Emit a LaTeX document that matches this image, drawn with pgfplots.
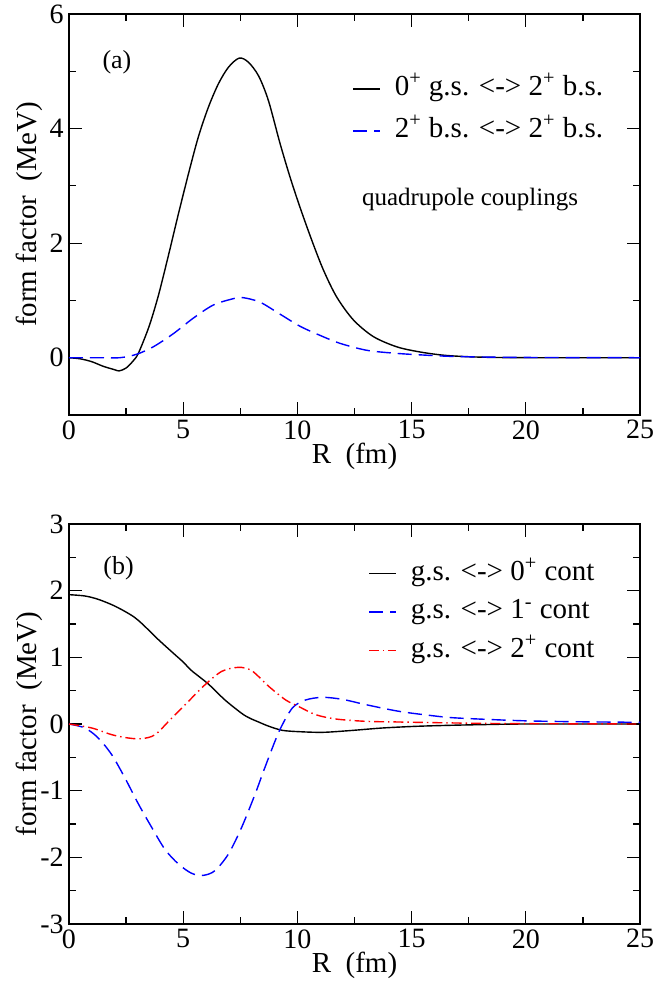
\documentclass[border=0pt]{standalone}
\usepackage{fontspec}
\setmainfont{Liberation Serif}
\usepackage{pgfplots}
\pgfplotsset{compat=1.18}

\pgfplotsset{
  panel/.style={
    scale only axis, width=285.5pt,
    xmin=0, xmax=25,
    xtick={0,5,...,25}, minor xtick={2.5,7.5,...,22.5},
    axis line style={line width=0.8pt},
    every tick/.style={black, line width=0.6pt},
    major tick length=6.5pt, minor tick length=3.5pt,
    tick label style={font=\fontsize{14}{16}\selectfont},
    xticklabel style={inner sep=2.5pt},
    yticklabel style={inner sep=2.5pt},
    /pgf/number format/assume math mode=true,
    label style={font=\fontsize{14.5}{17}\selectfont},
    xlabel={R\ \ (fm)}, ylabel={form factor\ \ (MeV)},
    x label style={at={(axis description cs:0.5,-0.102)}, anchor=center},
    y label style={at={(axis description cs:-0.07,0.5)}, anchor=center},
    legend cell align=left,
    legend image code/.code={\draw[##1] (0pt,0pt) -- (13.5pt,0pt);},
    legend style={draw=none, fill=none, inner sep=0pt,
      font=\fontsize{14.5}{17}\selectfont,
      nodes={inner sep=0pt, text height=10pt, text depth=3.5pt},
      /tikz/every odd column/.append style={column sep=7pt}},
  },
  crv/.style={line width=0.7pt, smooth},
}

\begin{document}
\begin{tikzpicture}
\path[use as bounding box] (-34.5pt,7pt) rectangle (292pt,-487.5pt);

% (a) quadrupole couplings
\begin{axis}[panel, at={(0pt,0pt)}, anchor=north west, height=200.5pt,
  ymin=-1, ymax=6,
  ytick={0,2,4,6}, yticklabels={0,2,4,6}, minor ytick={1,3,5},
  legend style={at={(axis description cs:0.4956,0.761)}, anchor=west, row sep=7.5pt},
]
\addplot[crv, black] table {
0     0
0.5  -0.02
1.0  -0.07
1.5  -0.15
2.0  -0.21
2.2  -0.23
2.5  -0.18
2.8  -0.06
3.04  0.08
3.5   0.54
3.91  1.08
4.35  1.78
4.79  2.51
5.23  3.21
5.66  3.85
6.1   4.37
6.54  4.78
6.98  5.07
7.45  5.23
7.85  5.16
8.3   4.92
8.73  4.49
9.24  3.74
9.68  3.15
10.11 2.63
10.63 2.05
11.14 1.53
11.72 1.06
12.45 0.66
13.32 0.37
14.35 0.19
15.37 0.10
16.5  0.04
18    0.01
20    0
25    0
};
\addlegendentry{0\textsuperscript{+} g.s. <-> 2\textsuperscript{+} b.s.}
\addplot[crv, blue, dash pattern=on 7pt off 3.5pt] table {
0     0
1.36  0
2.23  0
2.96  0.06
3.69  0.19
4.57  0.42
5.44  0.69
6.32  0.92
7.19  1.03
7.6   1.05
8.36  0.97
9.24  0.76
10.11 0.55
10.99 0.39
11.87 0.25
13.03 0.13
14.2  0.08
15.37 0.05
17    0.02
20    0.005
25    0
};
\addlegendentry{2\textsuperscript{+} b.s. <-> 2\textsuperscript{+} b.s.}
\node[font=\fontsize{13}{15}\selectfont] at (axis cs:2.1,5.15) {(a)};
\node[font=\fontsize{12.5}{15}\selectfont, anchor=base west] at (axis cs:12.52,2.66) {quadrupole couplings};
\end{axis}

% (b) couplings to the continuum
\begin{axis}[panel, at={(0pt,-255pt)}, anchor=north west, height=200pt,
  ymin=-3, ymax=3,
  ytick={-3,-2,...,3}, yticklabels={-3,-2,-1,0,1,2,3},
  minor ytick={-2.5,-1.5,...,2.5},
  x label style={at={(axis description cs:0.5,-0.103)}},
  legend style={at={(axis description cs:0.5236,0.78)}, anchor=west, row sep=5.75pt},
]
\addplot[crv, black] table {
0     1.94
0.7   1.92
1.28  1.87
2.0   1.77
2.74  1.63
3.18  1.51
3.9   1.27
4.64  1.04
5.0   0.93
5.37  0.80
6.1   0.60
6.83  0.36
7.56  0.16
7.9   0.09
8.3   0.03
8.76 -0.035
9.34 -0.095
10.07 -0.115
11.1 -0.125
12.26 -0.10
13.72 -0.06
15.18 -0.035
16.64 -0.02
18   -0.01
20    0
25    0
};
\addlegendentry{g.s. <-> 0\textsuperscript{+} cont}
\addplot[crv, blue, dash pattern=on 7pt off 3.5pt] table {
0     0
0.7  -0.06
1.28 -0.21
1.87 -0.46
2.45 -0.81
3.04 -1.2
3.62 -1.55
4.2  -1.88
4.79 -2.1
5.37 -2.24
5.88 -2.27
6.39 -2.2
6.98 -1.95
7.56 -1.55
8.15 -1.05
8.58 -0.65
9.2  -0.11
9.78  0.24
10.36 0.36
11.1  0.40
11.97 0.37
13.0  0.29
14.45 0.19
15.9  0.125
17    0.09
19.75 0.05
22    0.035
25    0.025
};
\addlegendentry{g.s. <-> 1\textsuperscript{-} cont}
\addplot[crv, red, dash pattern=on 5pt off 2pt on 0.7pt off 2pt] table {
0     0
1.0  -0.06
1.87 -0.16
2.6  -0.21
3.18 -0.22
3.77 -0.16
4.5   0.09
5.23  0.34
5.96  0.59
6.69  0.79
7.42  0.85
8.0   0.80
8.76  0.56
9.49  0.36
10.07 0.26
10.8  0.14
11.68 0.075
13.0  0.04
14.45 0.03
16.06 0.02
18    0.01
20    0.005
25    0
};
\addlegendentry{g.s. <-> 2\textsuperscript{+} cont}
\node[font=\fontsize{13}{15}\selectfont] at (axis cs:2.17,2.33) {(b)};
\end{axis}
\end{tikzpicture}
\end{document}
